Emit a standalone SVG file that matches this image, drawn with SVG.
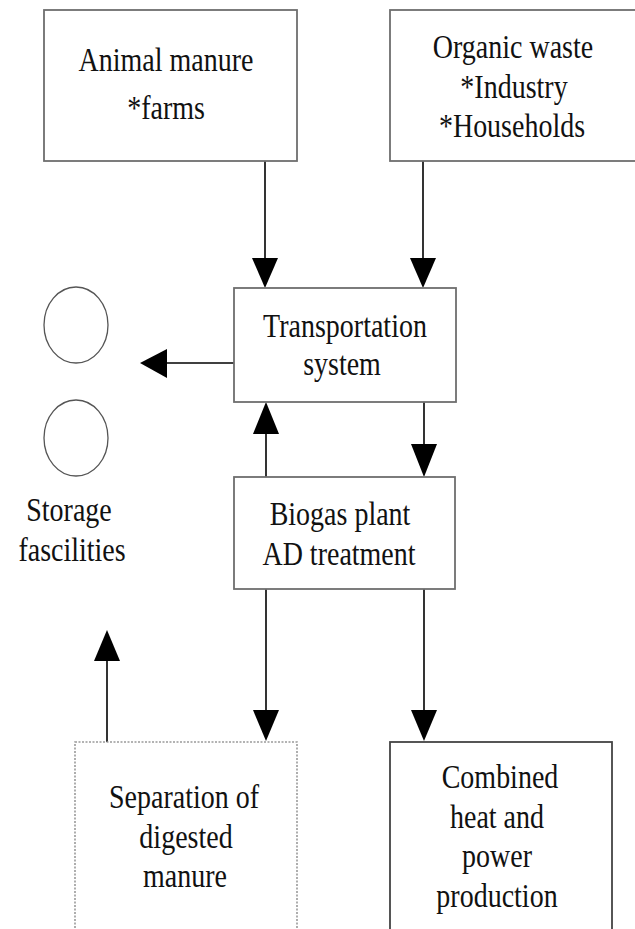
<svg xmlns="http://www.w3.org/2000/svg" width="635" height="929" viewBox="0 0 635 929">
<style>
.box{fill:#fff;stroke:#6e6e6e;stroke-width:1.8}
.dot{fill:#fff;stroke:#9a9a9a;stroke-width:1.6;stroke-dasharray:2 1.5}
.ell{fill:#fff;stroke:#555;stroke-width:1.3}
.t{font-family:'Liberation Serif','Tinos','Times New Roman','DejaVu Serif',serif;font-size:28px;fill:#111;text-anchor:middle}
.ln{stroke:#000;stroke-width:1.6;fill:none}
.hd{fill:#000}
</style>
<rect width="635" height="929" fill="#fff"/>
<g id="connectors">
  <line class="ln" x1="265" y1="161" x2="265" y2="260"/>
  <polygon class="hd" points="252,258 278,258 265,288"/>
  <line class="ln" x1="423" y1="161" x2="423" y2="260"/>
  <polygon class="hd" points="410,258 436,258 423,288"/>
  <line class="ln" x1="234" y1="363" x2="165" y2="363"/>
  <polygon class="hd" points="167,349 167,378 140,363"/>
  <line class="ln" x1="266" y1="477" x2="266" y2="432"/>
  <polygon class="hd" points="253,434 279,434 266,402"/>
  <line class="ln" x1="424" y1="402" x2="424" y2="446"/>
  <polygon class="hd" points="411,444 437,444 424,477"/>
  <line class="ln" x1="266" y1="589" x2="266" y2="712"/>
  <polygon class="hd" points="253,710 279,710 266,741"/>
  <line class="ln" x1="424" y1="589" x2="424" y2="712"/>
  <polygon class="hd" points="411,710 437,710 424,741"/>
  <line class="ln" x1="107" y1="742" x2="107" y2="659"/>
  <polygon class="hd" points="94,661 120,661 107,630"/>
</g>
<g id="animal">
  <rect class="box" x="44" y="10" width="253" height="151"/>
  <text class="t" font-family="Liberation Serif, serif" transform="translate(166,71) scale(1,1.18)">Animal manure</text>
  <text class="t" font-family="Liberation Serif, serif" transform="translate(166,119) scale(1,1.18)">*farms</text>
</g>
<g id="organic">
  <rect class="box" x="390" y="10" width="260" height="151"/>
  <text class="t" font-family="Liberation Serif, serif" transform="translate(513,58) scale(1,1.18)">Organic waste</text>
  <text class="t" font-family="Liberation Serif, serif" transform="translate(514,98) scale(1,1.18)">*Industry</text>
  <text class="t" font-family="Liberation Serif, serif" transform="translate(512,137) scale(1,1.18)">*Households</text>
</g>
<g id="transport">
  <rect class="box" x="234" y="288" width="222" height="114"/>
  <text class="t" font-family="Liberation Serif, serif" transform="translate(345,337) scale(1,1.18)">Transportation</text>
  <text class="t" font-family="Liberation Serif, serif" transform="translate(342,375) scale(1,1.18)">system</text>
</g>
<g id="storage">
  <ellipse class="ell" cx="76" cy="325" rx="32" ry="38"/>
  <ellipse class="ell" cx="76" cy="438" rx="32" ry="38"/>
  <text class="t" font-family="Liberation Serif, serif" transform="translate(69,521) scale(1,1.18)">Storage</text>
  <text class="t" font-family="Liberation Serif, serif" transform="translate(72,561) scale(1,1.18)">fascilities</text>
</g>
<g id="biogas">
  <rect class="box" x="234" y="477" width="221" height="112"/>
  <text class="t" font-family="Liberation Serif, serif" transform="translate(340,525) scale(1,1.18)">Biogas plant</text>
  <text class="t" font-family="Liberation Serif, serif" transform="translate(339,565) scale(1,1.18)">AD treatment</text>
</g>
<g id="separation">
  <rect class="dot" x="75" y="742" width="222" height="200"/>
  <text class="t" font-family="Liberation Serif, serif" transform="translate(184,808) scale(1,1.18)">Separation of</text>
  <text class="t" font-family="Liberation Serif, serif" transform="translate(186,848) scale(1,1.18)">digested</text>
  <text class="t" font-family="Liberation Serif, serif" transform="translate(185,887) scale(1,1.18)">manure</text>
</g>
<g id="chp">
  <rect class="box" x="390" y="742" width="222" height="200" style="stroke:#444"/>
  <text class="t" font-family="Liberation Serif, serif" transform="translate(500,788) scale(1,1.18)">Combined</text>
  <text class="t" font-family="Liberation Serif, serif" transform="translate(497,828) scale(1,1.18)">heat and</text>
  <text class="t" font-family="Liberation Serif, serif" transform="translate(497,867) scale(1,1.18)">power</text>
  <text class="t" font-family="Liberation Serif, serif" transform="translate(497,907) scale(1,1.18)">production</text>
</g>
</svg>
